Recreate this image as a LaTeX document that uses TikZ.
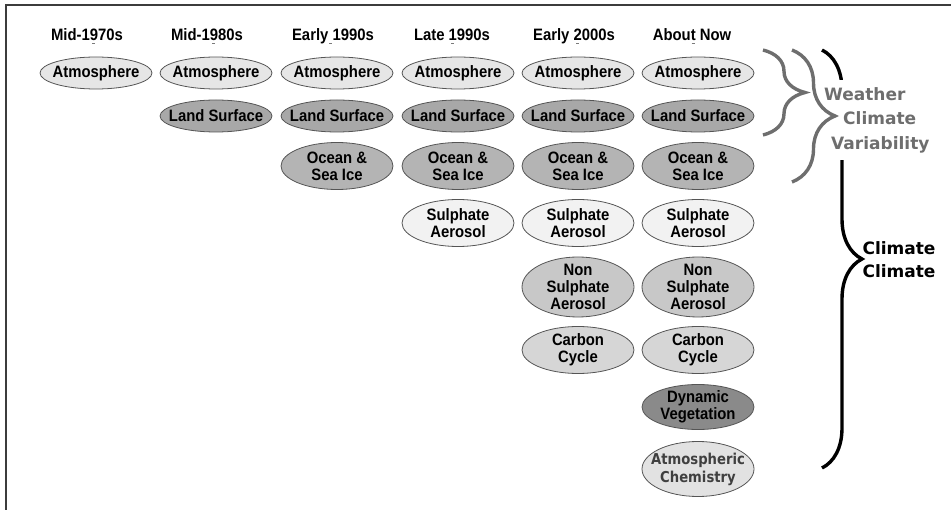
\documentclass[tikz,border=0pt]{standalone}
\usepackage{fontspec}
\setmainfont{Liberation Sans}
\newfontfamily\compfont{Liberation Sans}[FakeStretch=0.9]
\newfontfamily\wordfont{DejaVu Sans}
\newfontfamily\chemfont{DejaVu Sans}[FakeStretch=0.88]
\usepackage{xcolor}
\usepackage{tikz}
\usetikzlibrary{shapes.geometric,decorations.pathreplacing}
\definecolor{framegray}{HTML}{3C3C3C}
\definecolor{linegray}{HTML}{555555}
\definecolor{bracegray}{HTML}{6E6E6E}
\definecolor{markgray}{HTML}{7A7A7A}
\definecolor{atmfill}{HTML}{E6E6E6}
\definecolor{landfill}{HTML}{A8A8A8}
\definecolor{oceanfill}{HTML}{B4B4B4}
\definecolor{sulphfill}{HTML}{F2F2F2}
\definecolor{nonsfill}{HTML}{C8C8C8}
\definecolor{carbfill}{HTML}{D6D6D6}
\definecolor{vegfill}{HTML}{8A8A8A}
\definecolor{chemfill}{HTML}{E2E2E2}
\newcommand{\acc}[1]{\ooalign{#1\cr\hidewidth\textcolor{markgray}{\rule[-3pt]{3pt}{0.9pt}}\hidewidth\cr}}
\tikzset{comp/.style={ellipse,draw=linegray,line width=0.8pt,minimum width=112pt,inner xsep=-14pt,inner ysep=-5pt,align=center,font=\compfont\bfseries\fontsize{16.5}{17}\selectfont},
head/.style={anchor=base,font=\compfont\bfseries\fontsize{16.5}{18}\selectfont},
brc/.style={decorate,decoration={brace,amplitude=#1},line width=3.4pt},
bigtext/.style={align=left,font=\wordfont\bfseries\fontsize{17}{24.5}\selectfont}}

\begin{document}
\begin{tikzpicture}[x=1pt,y=-1pt]
\useasboundingbox (0,0) rectangle (951,510);
\draw[framegray,line width=2pt] (6,510)--(6,5)--(951,5);
\foreach \i/\x/\t in {1/87/{Mid-1\acc{9}70s},2/207/{Mid-1\acc{9}80s},3/333/{Early\acc{\hspace*{4.2pt}}1990s},4/452/{Late \acc{1}990s},5/574/{Early \acc{2}000s},6/692/{Abou\acc{t} Now}}
  {\node[head] (hd\i) at (\x,41) {\t};}
\foreach \i/\x in {1/96,2/216,3/337,4/458,5/578,6/698}
  {\node[comp,fill=atmfill,minimum height=32pt] (atm\i) at (\x,73) {Atmosphere};}
\foreach \i/\x in {2/216,3/337,4/458,5/578,6/698}
  {\node[comp,fill=landfill,minimum height=32pt] (land\i) at (\x,116) {Land Surface};}
\foreach \i/\x in {3/337,4/458,5/578,6/698}
  {\node[comp,fill=oceanfill,minimum height=47pt] (ocean\i) at (\x,166) {Ocean \&\\Sea Ice};}
\foreach \i/\x in {4/458,5/578,6/698}
  {\node[comp,fill=sulphfill,minimum height=47pt] (sulph\i) at (\x,223) {Sulphate\\Aerosol};}
\foreach \i/\x in {5/578,6/698}
  {\node[comp,fill=nonsfill,minimum height=60pt] (nons\i) at (\x,287) {Non\\Sulphate\\Aerosol};
   \node[comp,fill=carbfill,minimum height=47pt] (carb\i) at (\x,350) {Carbon\\Cycle};}
\node[comp,fill=vegfill,minimum height=45pt] (veg6) at (698,407) {Dynamic\\Vegetation};
\node[comp,fill=chemfill,minimum height=55pt,text=black!75,font=\chemfont\bfseries\fontsize{15}{18}\selectfont] (chem6) at (698,469) {Atmospheric\\Chemistry};
% braces
\draw[brc=40,black] (822,50)--(822,468);
\node[bigtext,text=bracegray,fill=white,anchor=west,inner xsep=3pt,inner ysep=7pt] (wcv) at (821,120) {Weather\\\hspace*{19pt}Climate\\\hspace*{7pt}Variability};
\draw[brc=42,bracegray] (763,50)--(763,135);
\draw[brc=43,bracegray] (792,50)--(792,182);
\node[bigtext,anchor=west,font=\wordfont\bfseries\fontsize{17}{23}\selectfont] (clim) at (859,260) {Climate\\Climate};
\end{tikzpicture}
\end{document}
